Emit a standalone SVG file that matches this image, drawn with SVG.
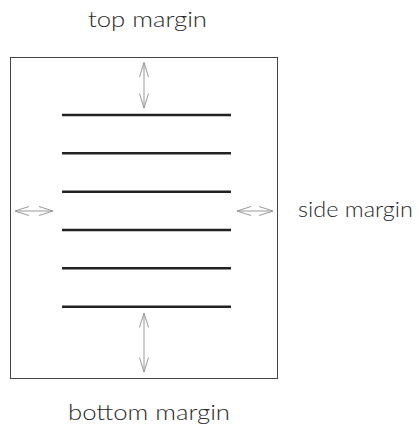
<svg xmlns="http://www.w3.org/2000/svg" width="419" height="427" viewBox="0 0 419 427">
<style>
.lbl{font-family:Lato,"Open Sans","Liberation Sans",sans-serif;font-size:22px;fill:#2a2a2a;font-weight:300}
.txt{stroke:#222;stroke-width:2.5}
.arr{stroke:#999;stroke-width:1;fill:none}
</style>
<rect width="419" height="427" fill="#fff"/>
<g id="page">
<rect x="10.5" y="57.5" width="267" height="321" fill="none" stroke="#444" stroke-width="1"/>
</g>
<g id="text-lines">
<line class="txt" x1="62" y1="115" x2="231" y2="115"/>
<line class="txt" x1="62" y1="153.3" x2="231" y2="153.3"/>
<line class="txt" x1="62" y1="191.7" x2="231" y2="191.7"/>
<line class="txt" x1="62" y1="230" x2="231" y2="230"/>
<line class="txt" x1="62" y1="268.3" x2="231" y2="268.3"/>
<line class="txt" x1="62" y1="306.7" x2="231" y2="306.7"/>
</g>
<g id="connectors">
<path class="arr" d="M144 62.5V108M139.5 77L144 62.5 148.5 77M139.5 93.5L144 108 148.5 93.5"/>
<path class="arr" d="M144 313V372M139.5 327.5L144 313 148.5 327.5M139.5 357.5L144 372 148.5 357.5"/>
<path class="arr" d="M15 211H53M29 206.5L15 211 29 215.5M39 206.5L53 211 39 215.5"/>
<path class="arr" d="M237 211H273M251 206.5L237 211 251 215.5M259 206.5L273 211 259 215.5"/>
</g>
<g id="label-top"><text class="lbl" x="88" y="27" textLength="119" lengthAdjust="spacingAndGlyphs">top margin</text></g>
<g id="label-side"><text class="lbl" x="298" y="217" textLength="115" lengthAdjust="spacingAndGlyphs">side margin</text></g>
<g id="label-bottom"><text class="lbl" x="68" y="420" textLength="162" lengthAdjust="spacingAndGlyphs">bottom margin</text></g>
</svg>
